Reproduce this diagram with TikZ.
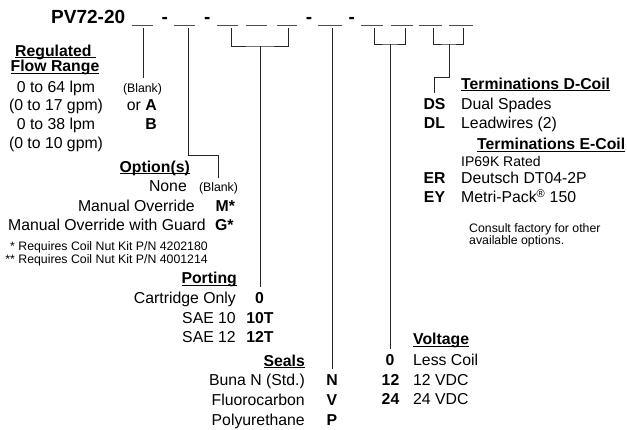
\documentclass[tikz,border=0pt]{standalone}
\usepackage{fontspec}
\setmainfont{Liberation Sans}
\usepackage{tikz}
\newcommand{\hdr}[1]{\setbox0\hbox{\bfseries #1}\rlap{\rule[-1.8pt]{\wd0}{1.1pt}}\box0}

\begin{document}
\begin{tikzpicture}[x=1pt,y=-1pt,
  txt/.style={font=\fontsize{15.8}{18}\selectfont, inner sep=0pt},
  note/.style={font=\fontsize{12.3}{14}\selectfont, inner sep=0pt},
  code/.style={font=\fontsize{15.8}{18}\selectfont\bfseries, anchor=base, inner sep=6pt},
  blankcode/.style={font=\fontsize{12.3}{14}\selectfont, anchor=base, inner sep=5pt},
  link/.style={line width=0.9pt, black!85},
  slot/.style={line width=0.7pt, black!70}]
\useasboundingbox (0,0) rectangle (627,430);

% Model code with blanks
\node[font=\fontsize{19}{22}\selectfont\bfseries, inner sep=0pt, anchor=base west] (title) at (51,24) {PV72-20};
\foreach \a/\b in {132/153, 174/195, 217/238, 246/267, 277/297, 318/342, 361/383, 391/413, 419/442, 449/473}
  \draw[slot] (\a,25.5) -- (\b,25.5);
\foreach \x/\n in {164.7/d1, 207.2/d2, 309/d3, 351.7/d4}
  \node[font=\fontsize{19}{22}\selectfont\bfseries, inner sep=0pt, anchor=base] (\n) at (\x,24) {-};

% Connector tops
\coordinate (c1) at (143.3,28);
\coordinate (c2) at (188.3,28);
\coordinate (c3) at (231,28);
\coordinate (pb) at (260.7,46);
\coordinate (c5) at (288.3,28);
\coordinate (c6) at (332.3,28);
\coordinate (c7) at (374,28);
\coordinate (vb) at (390,44);
\coordinate (c8) at (405,28);
\coordinate (c9) at (433.3,28);
\coordinate (tb) at (449,44);
\coordinate (c10) at (463.3,28);

% Regulated flow range
\node[txt, anchor=base west] (rfhead1) at (15,56.7) {\hdr{Regulated\ }};
\node[txt, anchor=base] (rfhead2) at (55,72) {\hdr{Flow Range}};
\node[txt, anchor=base] (rf1) at (56,92.6) {0 to 64 lpm};
\node[txt, anchor=base] (rf2) at (56,111) {(0 to 17 gpm)};
\node[txt, anchor=base] (rf3) at (56,130) {0 to 38 lpm};
\node[txt, anchor=base] (rf4) at (56,148.5) {(0 to 10 gpm)};
\node[blankcode] (rfblank) at (142.5,92.6) {(Blank)};
\node[txt, anchor=base east] (rfA) at (157,111) {or \textbf{A}};
\node[txt, anchor=base east] (rfB) at (157,130) {\textbf{B}};

% Options
\node[txt, anchor=base east] (ophead) at (190,172.7) {\hdr{Option(s)}};
\node[txt, anchor=base east] (op1) at (187,191.7) {None};
\node[txt, anchor=base east] (op2) at (195,211.7) {Manual Override};
\node[txt, anchor=base east] (op3) at (206,230.7) {Manual Override with Guard};
\node[blankcode] (opblank) at (218.5,192) {(Blank)};
\node[txt, anchor=base west] (opM) at (215.5,211.7) {\textbf{M*}};
\node[txt, anchor=base west] (opG) at (215,230.7) {\textbf{G*}};
\node[note, anchor=base east] (fn1) at (208,251) {* Requires Coil Nut Kit P/N 4202180};
\node[note, anchor=base east] (fn2) at (208,264) {** Requires Coil Nut Kit P/N 4001214};

% Porting
\node[txt, anchor=base east] (pthead) at (237,284) {\hdr{Porting}};
\node[txt, anchor=base east] (pt1) at (236,304) {Cartridge Only};
\node[txt, anchor=base east] (pt2) at (236,324) {SAE 10};
\node[txt, anchor=base east] (pt3) at (236,343) {SAE 12};
\node[code] (pt0) at (259.5,304) {0};
\node[code] (pt10) at (260,324) {10T};
\node[code] (pt12) at (260,343) {12T};

% Seals
\node[txt, anchor=base east] (slhead) at (305,366.7) {\hdr{Seals}};
\node[txt, anchor=base east] (sl1) at (305,386) {Buna N (Std.)};
\node[txt, anchor=base east] (sl2) at (305,406) {Fluorocarbon};
\node[txt, anchor=base east] (sl3) at (305,425) {Polyurethane};
\node[code] (slN) at (332,386) {N};
\node[code] (slV) at (332,406) {V};
\node[code] (slP) at (332,425) {P};

% Voltage
\node[txt, anchor=base west] (vthead) at (413,345) {\hdr{Voltage}};
\node[code] (vt0) at (390,366) {0};
\node[code] (vt12) at (390.5,385.5) {12};
\node[code] (vt24) at (390.5,405) {24};
\node[txt, anchor=base west] (vt1) at (413,366) {Less Coil};
\node[txt, anchor=base west] (vt2) at (413,385.5) {12 VDC};
\node[txt, anchor=base west] (vt3) at (413,405) {24 VDC};

% Terminations
\node[txt, anchor=base west] (tdhead) at (461,89.3) {\hdr{Terminations D-Coil}};
\node[code] (tmDS) at (434.5,110) {DS};
\node[code] (tmDL) at (434.5,129) {DL};
\node[txt, anchor=base west] (td1) at (461,110) {Dual Spades};
\node[txt, anchor=base west] (td2) at (461,129) {Leadwires (2)};
\node[txt, anchor=base west] (tehead) at (477,150) {\hdr{Terminations E-Coil}};
\node[txt, anchor=base west, font=\fontsize{14}{16}\selectfont] (te0) at (461,167) {IP69K Rated};
\node[code] (tmER) at (434.5,184) {ER};
\node[code] (tmEY) at (434.5,203) {EY};
\node[txt, anchor=base west] (te1) at (461,184) {Deutsch DT04-2P};
\node[txt, anchor=base west] (te2) at (461,203) {Metri-Pack\textsuperscript{®} 150};
\node[note, anchor=base west] (tn1) at (469,232.5) {Consult factory for other};
\node[note, anchor=base west] (tn2) at (469,245) {available options.};

% Connectors
\draw[link] (c1) -- (c1 |- rfblank.north);
\draw[link] (c2) -- ++(0,127) -| (opblank.north);
\draw[link] (c3) |- (pb) -| (c5);
\draw[link] (pb) -- (pb |- pt0.north);
\draw[link] (c6) -- (c6 |- slN.north);
\draw[link] (c7) |- (vb) -| (c8);
\draw[link] (vb) -- (vb |- vt0.north);
\draw[link] (c9) |- (tb) -| (c10);
\draw[link] (tb) -- ++(0,33) -| (tmDS.north);
\end{tikzpicture}
\end{document}
